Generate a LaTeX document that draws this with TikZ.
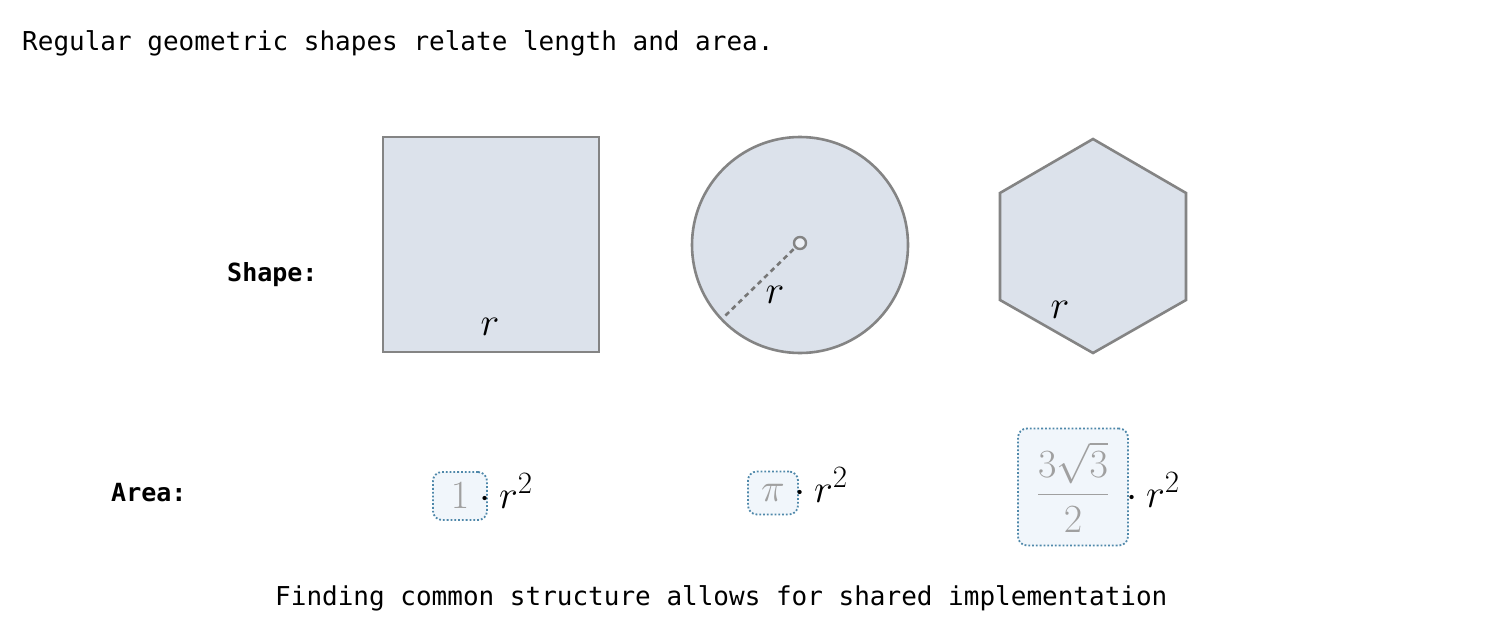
\RequirePackage{fix-cm}
\documentclass[tikz,border=0pt]{standalone}
\usepackage{amsmath}
\usepackage{fontspec}
\newfontfamily\monofont{DejaVu Sans Mono}
\DeclareMathSizes{40}{40}{31}{24}
\usetikzlibrary{shapes.geometric}
\definecolor{shapefill}{HTML}{DCE2EB}
\definecolor{shapeline}{HTML}{848484}
\definecolor{coefline}{HTML}{4F88AA}
\definecolor{coeffill}{HTML}{F1F6FB}
\definecolor{coeftext}{HTML}{A0A0A0}
\tikzset{
  geom/.style={draw=shapeline, fill=shapefill, line width=2.6pt},
  txt/.style={anchor=base west, inner sep=0pt, font=\monofont\fontsize{26}{30}\selectfont},
  lbl/.style={anchor=base west, inner sep=0pt, font=\monofont\bfseries\fontsize{25}{30}\selectfont},
  mth/.style={inner sep=0pt, font=\fontsize{40}{48}\selectfont},
  coef/.style={draw=coefline, dotted, line width=1.8pt, fill=coeffill, rounded corners=9pt,
               inner sep=0pt, text=coeftext, font=\fontsize{40}{48}\selectfont},
}
\begin{document}
\begin{tikzpicture}[x=1pt,y=-1pt]
\useasboundingbox[fill=white] (0,0) rectangle (1493,618);
% texts
\node[txt] (title) at (22,51) {Regular geometric shapes relate length and area.};
\node[txt] (foot) at (275,605) {Finding common structure allows for shared implementation};
\node[lbl] (shapelbl) at (227,281) {Shape:};
\node[lbl] (arealbl) at (111,501) {Area:};
% square
\draw[geom] (383,137) rectangle (599,352);
\node[mth] (rsq) at (490,327) {$r$};
% circle
\draw[geom] (800,245) circle[radius=108];
\coordinate (cc) at (800,243);
\coordinate (rimpt) at (725,316);
\draw[shapeline!90!black, line width=2.6pt, dash pattern=on 5pt off 4pt] (cc) -- (rimpt);
\node[circle, draw=shapeline, fill=shapefill!50!white, line width=2.4pt, minimum size=12pt, inner sep=0pt] (ctr) at (cc) {};
\node[mth] (rci) at (775,295) {$r$};
% hexagon
\draw[geom] (1093,139) -- (1186,193) -- (1186,300) -- (1093,353) -- (1000,300) -- (1000,193) -- cycle;
\node[mth] (rhx) at (1060,310) {$r$};
% area formulas
\node[coef, minimum width=54pt, minimum height=48pt] (c1) at (460,496) {$1$};
\node[mth, anchor=base west] (f1) at (470,508) {${}\cdot r^2$};
\node[coef, minimum width=50pt, minimum height=43pt] (c2) at (773,493) {$\pi$};
\node[mth, anchor=base west] (f2) at (785,502) {${}\cdot r^2$};
\node[coef, minimum width=110pt, minimum height=117pt] (c3) at (1073,487) {$\dfrac{3\sqrt{3}}{2}$};
\node[mth, anchor=base west] (f3) at (1117,507) {${}\cdot r^2$};
\end{tikzpicture}
\end{document}
